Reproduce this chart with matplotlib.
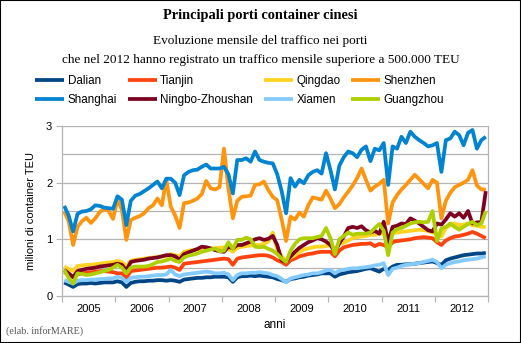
import numpy as np
import matplotlib
matplotlib.use('Agg')
import matplotlib.pyplot as plt

plt.rcParams['font.family'] = ['Liberation Sans', 'DejaVu Sans']

# Monthly container traffic, millions of TEU, Jan 2005 - Dec 2012
years = ['2005', '2006', '2007', '2008', '2009', '2010', '2011', '2012']

dalian = [0.24, 0.20, 0.16, 0.21, 0.22, 0.22, 0.23, 0.22, 0.23, 0.24, 0.24, 0.24,
          0.26, 0.24, 0.16, 0.23, 0.25, 0.26, 0.26, 0.27, 0.27, 0.28, 0.28, 0.27,
          0.28, 0.27, 0.25, 0.29, 0.30, 0.31, 0.32, 0.32, 0.33, 0.33, 0.34, 0.34,
          0.34, 0.33, 0.25, 0.33, 0.35, 0.35, 0.36, 0.35, 0.36, 0.35, 0.34, 0.33,
          0.30, 0.28, 0.25, 0.30, 0.31, 0.33, 0.34, 0.36, 0.37, 0.38, 0.40, 0.40,
          0.40, 0.34, 0.38, 0.40, 0.42, 0.43, 0.44, 0.46, 0.48, 0.49, 0.46, 0.43,
          0.48, 0.46, 0.52, 0.55, 0.55, 0.56, 0.56, 0.57, 0.58, 0.59, 0.60, 0.61,
          0.58, 0.55, 0.63, 0.66, 0.68, 0.70, 0.72, 0.73, 0.74, 0.75, 0.75, 0.76]

tianjin = [0.42, 0.38, 0.34, 0.38, 0.40, 0.41, 0.42, 0.43, 0.44, 0.44, 0.43, 0.42,
           0.40, 0.40, 0.32, 0.44, 0.45, 0.46, 0.47, 0.48, 0.49, 0.50, 0.50, 0.51,
           0.52, 0.50, 0.46, 0.57, 0.58, 0.59, 0.60, 0.61, 0.62, 0.63, 0.64, 0.65,
           0.66, 0.65, 0.55, 0.66, 0.68, 0.69, 0.70, 0.71, 0.72, 0.72, 0.71, 0.68,
           0.63, 0.60, 0.55, 0.63, 0.66, 0.70, 0.72, 0.74, 0.75, 0.77, 0.78, 0.78,
           0.78, 0.70, 0.80, 0.86, 0.88, 0.90, 0.91, 0.92, 0.92, 0.93, 0.88, 0.92,
           0.90, 0.86, 0.95, 0.97, 0.98, 0.99, 1.00, 1.02, 1.03, 1.04, 1.03, 1.02,
           0.95, 0.90, 0.98, 1.02, 1.05, 1.06, 1.08, 1.10, 1.13, 1.10, 1.06, 1.02]

qingdao = [0.52, 0.48, 0.44, 0.53, 0.54, 0.55, 0.55, 0.56, 0.57, 0.58, 0.59, 0.60,
           0.62, 0.60, 0.52, 0.62, 0.64, 0.65, 0.66, 0.67, 0.68, 0.69, 0.70, 0.70,
           0.74, 0.72, 0.70, 0.78, 0.80, 0.81, 0.82, 0.83, 0.83, 0.84, 0.84, 0.85,
           0.86, 0.83, 0.78, 0.85, 0.87, 0.88, 0.89, 0.90, 0.90, 0.92, 0.96, 1.12,
           0.82, 0.70, 0.61, 0.68, 0.72, 0.78, 0.82, 0.84, 0.86, 0.87, 0.87, 0.88,
           0.90, 0.81, 0.92, 0.94, 0.98, 1.02, 1.04, 1.05, 1.06, 1.08, 1.08, 1.10,
           1.10, 1.02, 1.10, 1.12, 1.13, 1.14, 1.15, 1.16, 1.17, 1.16, 1.15, 1.12,
           1.10, 1.05, 1.20, 1.25, 1.28, 1.25, 1.26, 1.28, 1.25, 1.24, 1.22, 1.22]

shenzhen = [1.49, 1.32, 0.90, 1.22, 1.32, 1.38, 1.29, 1.37, 1.48, 1.54, 1.50, 1.36,
            1.71, 1.52, 0.99, 1.34, 1.38, 1.41, 1.46, 1.55, 1.60, 1.72, 1.60, 2.05,
            1.58, 1.42, 1.20, 1.64, 1.65, 1.68, 1.72, 1.80, 2.03, 1.90, 1.88, 1.92,
            2.60, 1.90, 1.37, 1.68, 1.75, 1.76, 1.77, 1.96, 1.97, 2.02, 1.87, 1.75,
            1.69, 1.35, 0.97, 1.40, 1.35, 1.47, 1.40, 1.60, 1.74, 1.72, 1.70, 1.86,
            1.72, 1.55, 1.62, 1.74, 1.84, 1.95, 2.08, 2.25, 2.05, 1.86, 1.93, 1.98,
            2.05, 1.28, 1.65, 1.78, 1.88, 1.96, 2.05, 2.14, 2.06, 1.98, 1.90, 2.05,
            2.00, 1.37, 1.68, 1.82, 1.92, 1.96, 2.00, 2.05, 2.22, 1.95, 1.88, 1.88]

shanghai = [1.59, 1.42, 1.14, 1.45, 1.49, 1.50, 1.53, 1.60, 1.59, 1.56, 1.55, 1.54,
            1.76, 1.70, 1.25, 1.68, 1.77, 1.80, 1.85, 1.90, 1.96, 2.02, 1.90, 2.07,
            2.07, 2.00, 1.78, 2.13, 2.19, 2.22, 2.23, 2.28, 2.32, 2.25, 2.25, 2.25,
            2.28, 2.15, 1.81, 2.40, 2.40, 2.43, 2.37, 2.55, 2.40, 2.37, 2.35, 2.34,
            2.15, 1.85, 1.46, 2.08, 1.93, 2.05, 1.99, 2.13, 2.19, 2.22, 2.16, 2.52,
            2.22, 1.88, 2.30, 2.45, 2.55, 2.52, 2.45, 2.58, 2.64, 2.38, 2.60, 2.57,
            2.70, 1.96, 2.64, 2.60, 2.81, 2.70, 2.90, 2.81, 2.75, 2.70, 2.64, 2.66,
            2.70, 2.19, 2.75, 2.78, 2.90, 2.84, 2.66, 2.88, 2.93, 2.60, 2.75, 2.81]

ningbo = [0.46, 0.40, 0.33, 0.44, 0.46, 0.48, 0.49, 0.50, 0.52, 0.53, 0.54, 0.55,
          0.57, 0.55, 0.45, 0.60, 0.62, 0.63, 0.64, 0.66, 0.67, 0.68, 0.70, 0.72,
          0.72, 0.70, 0.64, 0.74, 0.77, 0.80, 0.83, 0.87, 0.86, 0.84, 0.81, 0.79,
          0.78, 0.87, 0.84, 0.90, 0.90, 0.93, 0.96, 1.00, 1.02, 0.99, 1.01, 1.06,
          0.90, 0.63, 0.60, 0.70, 0.78, 0.85, 0.90, 0.95, 0.98, 1.02, 1.00, 0.96,
          0.90, 0.78, 0.93, 1.05, 1.20, 1.22, 1.20, 1.23, 1.16, 1.12, 1.15, 1.10,
          1.31, 0.95, 1.22, 1.24, 1.28, 1.27, 1.37, 1.33, 1.28, 1.22, 1.16, 1.14,
          1.28, 1.26, 1.35, 1.46, 1.40, 1.46, 1.38, 1.50, 1.28, 1.30, 1.30, 1.85]

xiamen = [0.28, 0.25, 0.22, 0.27, 0.28, 0.28, 0.29, 0.29, 0.30, 0.30, 0.31, 0.31,
          0.34, 0.32, 0.25, 0.32, 0.33, 0.34, 0.34, 0.35, 0.36, 0.37, 0.37, 0.38,
          0.46, 0.38, 0.35, 0.38, 0.39, 0.40, 0.41, 0.42, 0.43, 0.42, 0.40, 0.40,
          0.41, 0.38, 0.28, 0.37, 0.40, 0.40, 0.41, 0.41, 0.42, 0.41, 0.40, 0.37,
          0.35, 0.30, 0.24, 0.31, 0.33, 0.35, 0.37, 0.38, 0.40, 0.40, 0.42, 0.45,
          0.46, 0.40, 0.45, 0.46, 0.48, 0.49, 0.49, 0.50, 0.51, 0.52, 0.54, 0.55,
          0.58, 0.37, 0.48, 0.50, 0.53, 0.55, 0.56, 0.57, 0.58, 0.60, 0.62, 0.64,
          0.60, 0.49, 0.55, 0.58, 0.60, 0.61, 0.63, 0.64, 0.65, 0.66, 0.68, 0.70]

guangzhou = [0.46, 0.32, 0.22, 0.40, 0.39, 0.37, 0.38, 0.40, 0.42, 0.44, 0.46, 0.50,
             0.55, 0.50, 0.40, 0.50, 0.52, 0.52, 0.52, 0.53, 0.56, 0.60, 0.61, 0.63,
             0.66, 0.62, 0.60, 0.68, 0.71, 0.73, 0.75, 0.78, 0.80, 0.82, 0.84, 0.79,
             0.80, 0.95, 0.83, 0.99, 0.99, 1.03, 1.00, 0.87, 0.86, 0.87, 0.83, 0.80,
             0.74, 0.66, 0.60, 0.80, 0.92, 1.00, 1.02, 1.02, 1.02, 1.04, 1.06, 1.20,
             1.02, 0.74, 1.00, 1.06, 1.12, 1.08, 1.10, 1.10, 1.10, 1.12, 1.20, 1.27,
             1.15, 0.72, 1.12, 1.18, 1.20, 1.24, 1.28, 1.30, 1.31, 1.30, 1.31, 1.50,
             0.97, 1.19, 1.22, 1.28, 1.22, 1.17, 1.22, 1.27, 1.31, 1.25, 1.28, 1.50]

ports = ['Dalian', 'Tianjin', 'Qingdao', 'Shenzhen',
         'Shanghai', 'Ningbo-Zhoushan', 'Xiamen', 'Guangzhou']
series = [dalian, tianjin, qingdao, shenzhen, shanghai, ningbo, xiamen, guangzhou]
colors = ['#004586', '#ff420e', '#ffd320', '#ff950e',
          '#0084d1', '#7e0021', '#83caff', '#aecf00']

W, H = 521, 343
fig = plt.figure(figsize=(W / 100, H / 100), dpi=100)
fig.patch.set_facecolor('white')
fig.add_artist(plt.Rectangle((0, 0), 1, 1, transform=fig.transFigure,
                             fill=False, edgecolor='black', lw=1.5))

ax = fig.add_axes([62 / W, 1 - 296 / H, (488 - 62) / W, (296 - 126) / H])

x = np.arange(len(dalian))
lines = []
for name, vals, col in zip(ports, series, colors):
    ln, = ax.plot(x, vals, color=col, lw=2.7, label=name,
                  solid_joinstyle='round', solid_capstyle='butt')
    lines.append(ln)

ax.set_xlim(-0.5, len(x) - 0.5)
ax.set_ylim(0, 3)

grid_col = '#b3b3b3'
ax.set_yticks([0, 1, 2, 3])
ax.set_yticks(np.arange(0, 3.01, 0.5), minor=True)
ax.grid(axis='y', which='both', color=grid_col, lw=0.9)
ax.set_axisbelow(True)
ax.tick_params(axis='y', which='major', length=4, color=grid_col,
               labelsize=8, pad=3)
ax.tick_params(axis='y', which='minor', length=0)

ax.set_xticks(np.arange(-0.5, len(x), 12))
ax.set_xticklabels([])
ax.set_xticks(np.arange(5.5, len(x), 12), minor=True)
ax.set_xticklabels(years, minor=True)
ax.tick_params(axis='x', which='major', length=4, color=grid_col)
ax.tick_params(axis='x', which='minor', length=0, labelsize=8, pad=6)

for side in ['left', 'bottom', 'right']:
    ax.spines[side].set_color(grid_col)
    ax.spines[side].set_linewidth(0.9)
ax.spines['top'].set_visible(False)

ax.set_ylabel('milioni di container TEU', fontsize=8, labelpad=7)
ax.set_xlabel('anni', fontsize=8.5, labelpad=3)

# legend filled row by row: 4 columns, 2 rows
order = [0, 4, 1, 5, 2, 6, 3, 7]
fig.legend([lines[i] for i in order], [ports[i] for i in order],
           loc='upper left', bbox_to_anchor=(35 / W, 1 - 75 / H), ncol=4,
           frameon=False, fontsize=8.4, handlelength=2.5, handletextpad=0.3,
           columnspacing=0.9, labelspacing=0.62, borderpad=0, borderaxespad=0)

serif = 'Liberation Serif'
fig.text(0.5, 1 - 16 / H, 'Principali porti container cinesi', ha='center',
         va='center', family=serif, weight='bold', fontsize=10.4)
fig.text(0.5, 1 - 41 / H, 'Evoluzione mensile del traffico nei porti',
         ha='center', va='center', family=serif, fontsize=9.5)
fig.text(0.5, 1 - 60 / H,
         'che nel 2012 hanno registrato un traffico mensile superiore a 500.000 TEU',
         ha='center', va='center', family=serif, fontsize=9.5)
fig.text(6 / W, 1 - 331 / H, '(elab. inforMARE)', ha='left', va='center',
         family=serif, fontsize=7.2, color='#555555')

fig.savefig('out.png', dpi=100)
